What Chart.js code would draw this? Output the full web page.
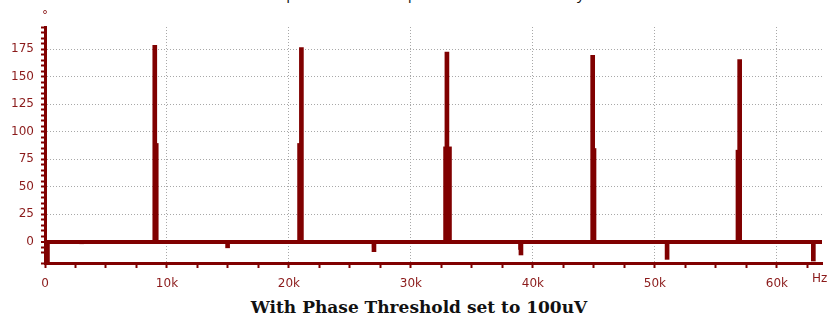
<!DOCTYPE html>
<html>
<head>
<meta charset="utf-8">
<script src="https://cdn.jsdelivr.net/npm/chart.js@4/dist/chart.umd.min.js"></script>
<style>
  body { margin: 0; background: #fff; }
  #wrap { position: relative; width: 828px; height: 320px; overflow: hidden; }
  #plot { position: absolute; left: 0; top: 0; width: 828px; height: 292px; }
  #title { position: absolute; left: 0; top: -16px; width: 860px; text-align: center;
           font: 15px "Open Sans", sans-serif; color: #111; line-height: 18px; }
  #caption { position: absolute; left: 0; top: 298px; width: 838px; text-align: center;
             font: bold 17px "DejaVu Serif", serif; color: #111; line-height: 19px; }
</style>
</head>
<body>
<div id="wrap">
  <div id="title">Phase Spectrum of the Square Wave Generated by Noise</div>
  <div id="plot"><canvas id="chart-phase"></canvas></div>
  <div id="caption">With Phase Threshold set to 100uV</div>
</div>
<script>
// harmonic bins (Hz) and their phase (degrees)
var mainFreqs = [200, 3000, 9000, 14970, 21020, 26970, 32950, 39020, 44900, 51000, 56950, 62990];
var mainPhase = [-19.3, -1.5, 178.6, -5.5, 176.6, -9, 172.6, -12, 169.6, -16, 165.7, -17.5];

// neighbouring bins around each harmonic
var sideFreqs = [9160, 20830, 32800, 33200, 45050, 56770, 26950, 38950, 51000, 62950];
var sidePhase = [89.4, 89.4, 86.3, 86.3, 84.8, 83.3, -5, -7, -10, -10];

// axis ranges; x ticks every 2.5k, labelled every 10k
var xMin = 0, xMax = 63700, xStep = 2500;
var yMin = -19.3, yMax = 195.3, yStep = 5;

var maroon = '#800000';
var labelColor = '#8b1a1a';
var gridGray = '#a8a8a8';

function points(xs, ys) {
    return xs.map(function(x, i) {
        return { x: x, y: ys[i] };
    });
}

// unit labels at the ends of the axes
var unitLabels = {
    id: 'unitLabels',
    afterDraw: function(chart) {
        var ctx = chart.ctx;
        var area = chart.chartArea;
        ctx.save();
        ctx.fillStyle = labelColor;
        ctx.font = '12px "DejaVu Sans"';
        ctx.textBaseline = 'top';
        ctx.textAlign = 'center';
        ctx.fillText('\u00b0', area.left, 10);
        ctx.textAlign = 'left';
        ctx.fillText('Hz', 812, 273);
        ctx.restore();
    }
};

var ctx = document.getElementById('chart-phase').getContext('2d');
var phaseChart = new Chart(ctx, {
    type: 'bar',
    data: {
        datasets: [{
            label: 'phase',
            data: points(mainFreqs, mainPhase),
            backgroundColor: maroon,
            barThickness: 4,
            grouped: false
        },
        {
            label: 'side bins',
            data: points(sideFreqs, sidePhase),
            backgroundColor: maroon,
            barThickness: 3,
            grouped: false
        }]
    },
    options: {
        responsive: true,
        maintainAspectRatio: false,
        animation: false,
        layout: {
            padding: { top: 27, right: 6, left: 0, bottom: 0 }
        },
        plugins: {
            legend: { display: false },
            tooltip: { enabled: false }
        },
        scales: {
            x: {
                type: 'linear',
                min: xMin,
                max: xMax,
                offset: false,
                afterFit: function(scale) { scale.height = 29; },
                // keep ticks on whole 2.5k steps instead of spreading them evenly
                afterBuildTicks: function(scale) {
                    var t = [];
                    for (var v = xMin; v <= xMax; v += xStep) t.push({ value: v });
                    scale.ticks = t;
                },
                ticks: {
                    autoSkip: false,
                    maxRotation: 0,
                    padding: 9,
                    color: labelColor,
                    font: { family: 'DejaVu Sans', size: 12 },
                    callback: function(v) {
                        if (v % 10000 !== 0) return '';
                        return v === 0 ? '0' : (v / 1000) + 'k';
                    }
                },
                grid: {
                    offset: false,
                    tickLength: 5,
                    color: function(c) {
                        var v = c.tick ? c.tick.value : 0;
                        return (v > 0 && v % 10000 === 0) ? gridGray : 'rgba(0,0,0,0)';
                    },
                    tickColor: maroon,
                    tickWidth: 2
                },
                border: { color: maroon, width: 3, dash: [1, 2] }
            },
            y: {
                min: yMin,
                max: yMax,
                afterFit: function(scale) { scale.width = 45; },
                ticks: {
                    stepSize: yStep,
                    maxTicksLimit: 100,
                    autoSkip: false,
                    padding: 7,
                    color: labelColor,
                    font: { family: 'DejaVu Sans', size: 12 },
                    callback: function(v) {
                        return v % 25 === 0 ? String(v) : '';
                    }
                },
                grid: {
                    tickLength: 4,
                    color: function(c) {
                        var v = c.tick ? c.tick.value : 1;
                        if (v === 0) return maroon;
                        return v % 25 === 0 ? gridGray : 'rgba(0,0,0,0)';
                    },
                    lineWidth: function(c) {
                        return c.tick && c.tick.value === 0 ? 4 : 1;
                    },
                    tickColor: maroon,
                    tickWidth: 2
                },
                border: {
                    color: maroon,
                    width: 3,
                    dash: function(c) {
                        return c.tick && c.tick.value === 0 ? [] : [1, 2];
                    }
                }
            }
        }
    },
    plugins: [unitLabels]
});
</script>
</body>
</html>
